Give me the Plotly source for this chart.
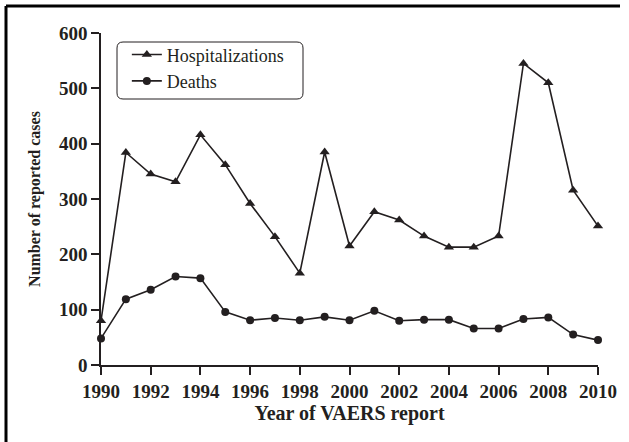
"""VAERS hospitalizations and deaths by report year."""

import plotly.graph_objects as go

years = list(range(1990, 2011))
hospitalizations = [80, 384, 345, 331, 416, 362, 292, 232, 166, 385,
                    215, 277, 262, 233, 213, 213, 233, 545, 510, 316, 251]
deaths = [48, 119, 136, 160, 157, 96, 81, 85, 81, 87,
          81, 98, 80, 82, 82, 66, 66, 83, 86, 55, 45]
x_ticks = list(range(1990, 2011, 2))
y_ticks = [0, 100, 200, 300, 400, 500, 600]

FONT = "Liberation Serif"
INK = "#231f20"


def rounded_box(x0, y0, x1, y1, r):
    # pixel path, y grows upward in pixel sizemode
    return (
        f"M {x0 + r},{y0} L {x1 - r},{y0} Q {x1},{y0} {x1},{y0 - r} "
        f"L {x1},{y1 + r} Q {x1},{y1} {x1 - r},{y1} "
        f"L {x0 + r},{y1} Q {x0},{y1} {x0},{y1 + r} "
        f"L {x0},{y0 - r} Q {x0},{y0} {x0 + r},{y0} Z"
    )


fig = go.Figure()

fig.add_trace(
    go.Scatter(
        x=years,
        y=hospitalizations,
        mode="lines+markers",
        name="Hospitalizations",
        line=dict(color=INK, width=1.6),
        marker=dict(symbol="triangle-up", size=9, color=INK),
        cliponaxis=False,
    )
)

fig.add_trace(
    go.Scatter(
        x=years,
        y=deaths,
        mode="lines+markers",
        name="Deaths",
        line=dict(color=INK, width=1.6),
        marker=dict(symbol="circle", size=8, color=INK),
        cliponaxis=False,
    )
)

axis_common = dict(
    showline=True,
    linecolor=INK,
    linewidth=1.5,
    ticks="outside",
    ticklen=8,
    tickwidth=1.5,
    tickcolor=INK,
    showgrid=False,
    zeroline=False,
    tickfont=dict(family=FONT, size=19, color=INK, weight="bold"),
)

fig.update_layout(
    width=629,
    height=442,
    paper_bgcolor="white",
    plot_bgcolor="white",
    margin=dict(l=101, r=31, t=33, b=77),
    font=dict(family=FONT, color=INK),
    xaxis=dict(
        range=[1990, 2010],
        tickvals=x_ticks,
        title=dict(text="<b>Year of VAERS report</b>", font=dict(size=20), standoff=4),
        **axis_common,
    ),
    yaxis=dict(
        range=[0, 600],
        tickvals=y_ticks,
        title=dict(text="<b>Number of reported cases</b>", font=dict(size=16), standoff=14),
        **axis_common,
    ),
    legend=dict(
        x=0.052,
        y=0.99,
        xanchor="left",
        yanchor="top",
        bgcolor="rgba(0,0,0,0)",
        font=dict(family=FONT, size=18, color=INK),
        itemwidth=30,
        tracegroupgap=0,
    ),
    showlegend=True,
)

# rounded legend frame
fig.add_shape(
    type="path",
    xref="paper",
    yref="paper",
    xsizemode="pixel",
    ysizemode="pixel",
    xanchor=0,
    yanchor=1,
    path=rounded_box(16, -9, 202, -66, 6),
    line=dict(color=INK, width=1),
)

# outer figure frame: left and top edges only
frame_left = -95 / 497
frame_top = (365 - 6) / 332
fig.add_shape(type="line", xref="paper", yref="paper",
              x0=frame_left, x1=(620 - 101) / 497, y0=frame_top, y1=frame_top,
              line=dict(color="black", width=3))
fig.add_shape(type="line", xref="paper", yref="paper",
              x0=frame_left, x1=frame_left, y0=-(442 - 365) / 332, y1=frame_top,
              line=dict(color="black", width=3))

fig.write_html(
    "out.html",
    config={"displayModeBar": False},
    post_script=(
        "document.body.style.margin='0';"
        "document.body.style.overflow='hidden';"
        "document.documentElement.style.overflow='hidden';"
    ),
)
